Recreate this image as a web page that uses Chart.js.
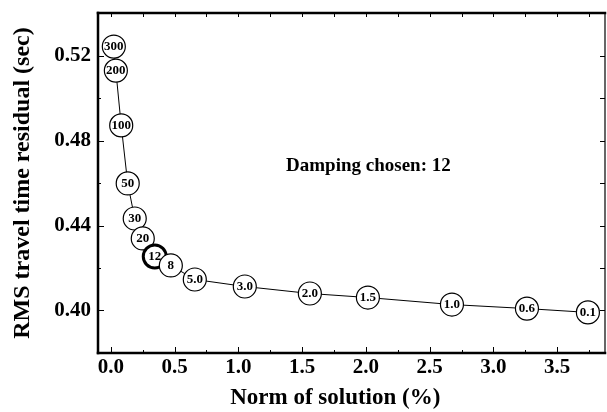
<!DOCTYPE html>
<html>
<head>
<meta charset="utf-8">
<script src="https://cdn.jsdelivr.net/npm/chart.js@4.4.1/dist/chart.umd.min.js"></script>
<style>
  html, body { margin: 0; padding: 0; background: #fff; }
  #wrap { width: 607px; height: 412px; }
</style>
</head>
<body>
<div id="wrap"><canvas id="c" width="607" height="412"></canvas></div>
<script>
// ---- data ----
const dampingLabels = ['300','200','100','50','30','20','12','8','5.0','3.0','2.0','1.5','1.0','0.6','0.1'];
const normValues    = [0.024, 0.04, 0.082, 0.133, 0.188, 0.251, 0.345, 0.471, 0.659, 1.051, 1.561, 2.016, 2.675, 3.263, 3.741];
const rmsValues     = [0.5242, 0.5129, 0.4871, 0.4598, 0.4433, 0.4339, 0.4254, 0.4212, 0.4146, 0.4113, 0.4080, 0.4061, 0.4028, 0.4009, 0.3991];
const chosenLabel   = '12';
const xTicks = [0.0, 0.5, 1.0, 1.5, 2.0, 2.5, 3.0, 3.5];
const xMinorTicks = [0.25, 0.75, 1.25, 1.75, 2.25, 2.75, 3.25, 3.75];
const yTicks = [0.40, 0.44, 0.48, 0.52];
const yMinorTicks = [0.38, 0.42, 0.46, 0.50, 0.54];
const annotationText = 'Damping chosen: 12';
const xTitle = 'Norm of solution (%)';
const yTitle = 'RMS travel time residual (sec)';

const SERIF = '"Liberation Serif", "Times New Roman", serif';

const points = normValues.map((v, i) => ({ x: v, y: rmsValues[i] }));

const framePlugin = {
  id: 'frame',
  afterDatasetsDraw(chart) {
    const ctx = chart.ctx;
    const meta = chart.getDatasetMeta(0);
    ctx.save();
    ctx.fillStyle = '#000';
    ctx.textAlign = 'center';
    ctx.textBaseline = 'middle';
    ctx.font = 'bold 13px ' + SERIF;
    meta.data.forEach((el, i) => {
      ctx.fillText(dampingLabels[i], el.x, el.y + 0.5);
    });
    ctx.restore();
  },
  afterDraw(chart) {
    const ctx = chart.ctx;
    const a = chart.chartArea;
    const xs = chart.scales.x, ys = chart.scales.y;
    ctx.save();
    ctx.strokeStyle = '#000';
    ctx.lineWidth = 1;
    const tick = (x1, y1, x2, y2) => { ctx.beginPath(); ctx.moveTo(x1, y1); ctx.lineTo(x2, y2); ctx.stroke(); };
    xTicks.forEach(v => { const p = Math.round(xs.getPixelForValue(v)) + 0.5; tick(p, a.bottom, p, a.bottom - 6); tick(p, a.top, p, a.top + 4); });
    xMinorTicks.forEach(v => { const p = Math.round(xs.getPixelForValue(v)) + 0.5; tick(p, a.bottom, p, a.bottom - 3); tick(p, a.top, p, a.top + 4); });
    yTicks.forEach(v => { const p = Math.round(ys.getPixelForValue(v)) + 0.5; tick(a.left, p, a.left + 6, p); tick(a.right, p, a.right - 5, p); });
    yMinorTicks.forEach(v => { const p = Math.round(ys.getPixelForValue(v)) + 0.5; tick(a.left, p, a.left + 3, p); tick(a.right, p, a.right - 5, p); });
    ctx.lineCap = 'square';
    ctx.lineWidth = 2.5;
    tick(a.left, a.top, a.right, a.top);
    tick(a.left, a.top, a.left, a.bottom);
    tick(a.left, a.bottom, a.right, a.bottom);
    ctx.lineWidth = 1.2;
    tick(a.right, a.top, a.right, a.bottom);
    ctx.fillStyle = '#000';
    ctx.textAlign = 'center';
    ctx.textBaseline = 'middle';
    ctx.font = 'bold 19px ' + SERIF;
    ctx.fillText(annotationText, xs.getPixelForValue(2.02), ys.getPixelForValue(0.4681));
    // x-axis title (placed as in the reference, slightly left of the plot centre)
    ctx.font = 'bold 23px ' + SERIF;
    ctx.fillText(xTitle, xs.getPixelForValue(1.76), xs.bottom - 14);
    ctx.restore();
  }
};

new Chart(document.getElementById('c'), {
  type: 'scatter',
  data: {
    datasets: [{
      label: yTitle,
      data: points,
      showLine: true,
      borderColor: '#000',
      borderWidth: 1,
      tension: 0,
      pointRadius: 11.5,
      pointHoverRadius: 11.5,
      pointBackgroundColor: '#fff',
      pointBorderColor: '#000',
      pointBorderWidth: dampingLabels.map(l => l === chosenLabel ? 3 : 1.2)
    }]
  },
  options: {
    responsive: false,
    animation: false,
    events: [],
    layout: { autoPadding: false, padding: { top: 13, right: 2, left: 0, bottom: 0 } },
    plugins: { legend: { display: false }, tooltip: { enabled: false } },
    scales: {
      x: {
        type: 'linear',
        min: -0.1, max: 3.875,
        grid: { display: false, drawTicks: false },
        border: { display: false },
        afterBuildTicks: s => { s.ticks = xTicks.map(v => ({ value: v })); },
        afterFit: s => { s.height = 59; s.paddingLeft = 0; s.paddingRight = 0; },
        ticks: {
          color: '#000', padding: 2, maxRotation: 0, autoSkip: false,
          font: { family: SERIF, size: 21, weight: 'bold' },
          callback: v => Number(v).toFixed(1)
        },
        title: { display: false, text: xTitle }
      },
      y: {
        type: 'linear',
        min: 0.38, max: 0.54,
        grid: { display: false, drawTicks: false },
        border: { display: false },
        afterBuildTicks: s => { s.ticks = yTicks.map(v => ({ value: v })); },
        afterFit: s => { s.width = 98; s.paddingTop = 0; s.paddingBottom = 0; },
        ticks: {
          color: '#000', padding: 7, autoSkip: false,
          font: { family: SERIF, size: 21, weight: 'bold' },
          callback: v => Number(v).toFixed(2)
        },
        title: {
          display: true, text: yTitle, color: '#000',
          padding: { top: 8, bottom: 0 },
          font: { family: SERIF, size: 24, weight: 'bold' }
        }
      }
    }
  },
  plugins: [framePlugin]
});
</script>
</body>
</html>
